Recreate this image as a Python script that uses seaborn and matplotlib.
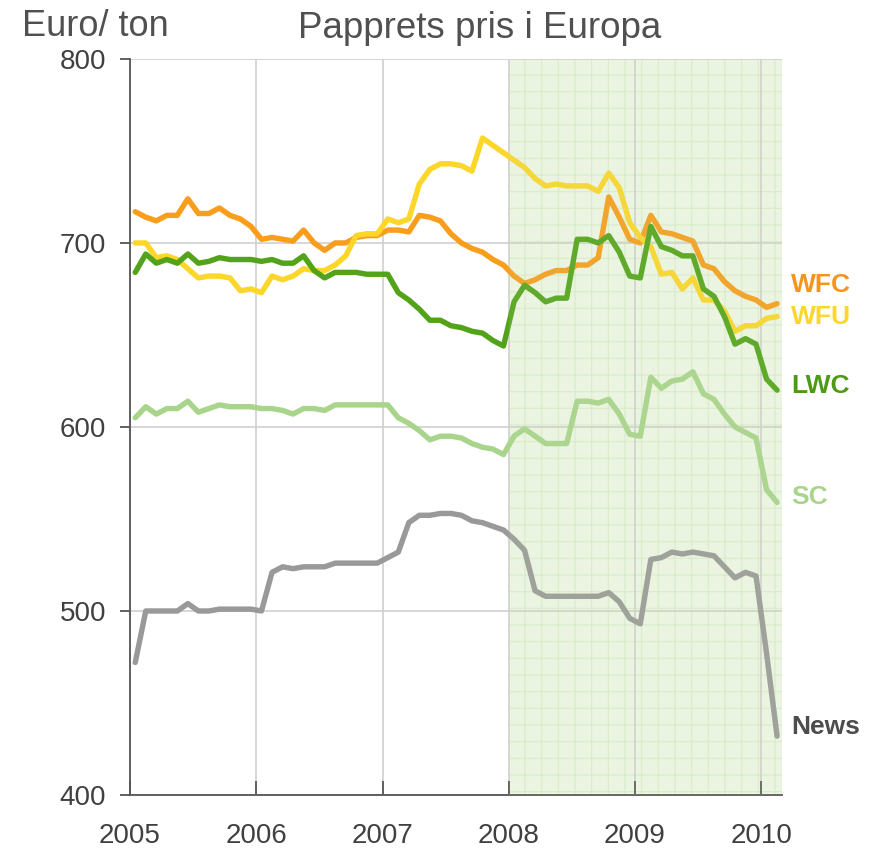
import numpy as np
import pandas as pd
import seaborn as sns
import matplotlib.pyplot as plt

# Månedlige priser (Euro/ton), jan 2005 - feb 2010
wfc = [717, 714, 712, 715, 715, 724, 716, 716, 719, 715, 713, 709,
       702, 703, 702, 701, 707, 700, 696, 700, 700, 703, 704, 704,
       707, 707, 706, 715, 714, 712, 705, 700, 697, 695, 691, 688,
       682, 678, 680, 683, 685, 685, 688, 688, 692, 725, 714, 702,
       700, 715, 706, 705, 703, 701, 688, 686, 679, 674, 671, 669,
       665, 667]
wfu = [700, 700, 692, 693, 691, 686, 681, 682, 682, 681, 674, 675,
       673, 682, 680, 682, 686, 685, 685, 688, 693, 704, 705, 705,
       713, 711, 713, 732, 740, 743, 743, 742, 739, 757, 753, 749,
       745, 741, 735, 731, 732, 731, 731, 731, 728, 738, 730, 711,
       703, 698, 683, 684, 675, 681, 669, 669, 663, 652, 655, 655,
       659, 660]
lwc = [684, 694, 689, 691, 689, 694, 689, 690, 692, 691, 691, 691,
       690, 691, 689, 689, 693, 685, 681, 684, 684, 684, 683, 683,
       683, 673, 669, 664, 658, 658, 655, 654, 652, 651, 647, 644,
       668, 677, 673, 668, 670, 670, 702, 702, 700, 704, 695, 682,
       681, 709, 698, 696, 693, 693, 675, 671, 660, 645, 648, 645,
       626, 620]
sc = [605, 611, 607, 610, 610, 614, 608, 610, 612, 611, 611, 611,
      610, 610, 609, 607, 610, 610, 609, 612, 612, 612, 612, 612,
      612, 605, 602, 598, 593, 595, 595, 594, 591, 589, 588, 585,
      595, 599, 595, 591, 591, 591, 614, 614, 613, 615, 607, 596,
      595, 627, 621, 625, 626, 630, 618, 615, 607, 600, 597, 594,
      566, 559]
news = [472, 500, 500, 500, 500, 504, 500, 500, 501, 501, 501, 501,
        500, 521, 524, 523, 524, 524, 524, 526, 526, 526, 526, 526,
        529, 532, 548, 552, 552, 553, 553, 552, 549, 548, 546, 544,
        539, 533, 511, 508, 508, 508, 508, 508, 508, 510, 505, 496,
        493, 528, 529, 532, 531, 532, 531, 530, 524, 518, 521, 519,
        477, 432]

series_names = ['WFC', 'WFU', 'LWC', 'SC', 'News']
series_values = [wfc, wfu, lwc, sc, news]
line_colors = ['#F99D1C', '#FDD62A', '#52A31A', '#A9D48C', '#999999']
label_colors = ['#F7941D', '#FDD62A', '#4E9A16', '#A9D48C', '#4D4D4D']
label_dy = [10, 0, 2, 3, 5]

years = [2005, 2006, 2007, 2008, 2009, 2010]
y_ticks = [400, 500, 600, 700, 800]

# midt i måneden
months = 2005 + (np.arange(len(wfc)) + 0.5) / 12

frames = []
for name, vals in zip(series_names, series_values):
    frames.append(pd.DataFrame({'år': months, 'pris': vals, 'serie': name}))
df = pd.concat(frames, ignore_index=True)

sns.set_theme(style='white')
plt.rcParams['font.family'] = ['Liberation Sans', 'DejaVu Sans']
plt.rcParams['hatch.linewidth'] = 0.8

fig = plt.figure(figsize=(8.7, 8.48), dpi=100)
ax = fig.add_axes([0.1494, 0.0625, 0.7496, 0.868])

ax.grid(True, color='#d0d0d0', linewidth=1.2)
ax.set_axisbelow(True)

# skyggelagt område fra 2008 (mønster under rutenett og linjer)
ax.axvspan(2008, 2010.165, facecolor='#f0f7ea', edgecolor='#dcedcd',
           hatch='+', lw=0, zorder=0.1)

sns.lineplot(data=df, x='år', y='pris', hue='serie', hue_order=series_names,
             palette=dict(zip(series_names, line_colors)), linewidth=3.9,
             legend=False, ax=ax, zorder=3, solid_capstyle='round')

# lett grønn tone over linjene
ax.axvspan(2008, 2010.165, facecolor='#c6e4a8', alpha=0.12, lw=0, zorder=4)

ax.set_xlim(2005, 2010.165)
ax.set_ylim(400, 800)
ax.set_xticks(years)
ax.set_yticks(y_ticks)
ax.set_xlabel('')
ax.set_ylabel('')

for s in ['top', 'right']:
    ax.spines[s].set_visible(False)
for s in ['left', 'bottom']:
    ax.spines[s].set_color('#555555')
    ax.spines[s].set_linewidth(1.3)

ax.tick_params(axis='y', direction='out', length=7, width=1.3, color='#555555',
               labelsize=20, labelcolor='#404040', pad=10, left=True)
ax.tick_params(axis='x', direction='in', length=10, width=1.3, color='#555555',
               labelsize=20, labelcolor='#404040', pad=20, bottom=True)

for name, vals, col, dy in zip(series_names, series_values, label_colors, label_dy):
    ax.text(months[-1] + 0.11, vals[-1] + dy, name, color=col, fontsize=19,
            fontweight='bold', ha='left', va='center', clip_on=False)

fig.text(480 / 870, 1 - 28 / 848, 'Papprets pris i Europa', fontsize=26.5,
         color='#505050', ha='center', va='center')
fig.text(22 / 870, 1 - 26 / 848, 'Euro/ ton', fontsize=26,
         color='#505050', ha='left', va='center')

fig.savefig('out.png', dpi=100)
